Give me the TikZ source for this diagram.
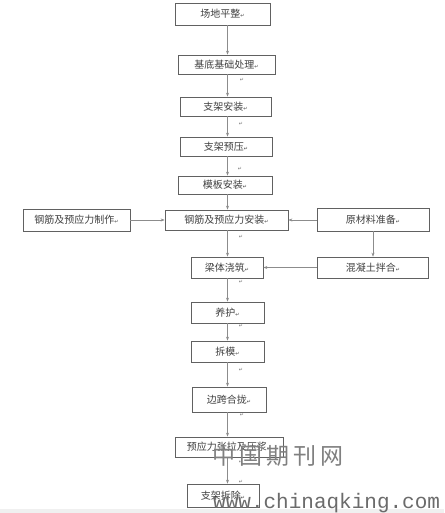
\documentclass[tikz,border=0pt]{standalone}
\usepackage{fontspec}
\usetikzlibrary{arrows.meta}
\newfontfamily\cjk{Noto Sans CJK SC}
\newfontfamily\dvs{DejaVu Sans}
\newfontfamily\wmono{Liberation Mono}
\newcommand\pmk{{\dvs\fontsize{5}{5}\selectfont ↵}}
\begin{document}
\begin{tikzpicture}[x=1pt,y=-1pt,
  box/.style={draw=black!62, line width=0.7pt, rectangle, inner sep=0pt, text=black!75, font=\cjk\fontsize{10}{12}\selectfont},
  conn/.style={draw=black!45, line width=0.6pt, -{Stealth[length=4pt,width=3pt]}},
  mk/.style={inner sep=0pt, text=black!55, font=\dvs\fontsize{5}{5}\selectfont},
  wm/.style={inner sep=0pt, text=black!55}]
\useasboundingbox (0,0) rectangle (444,513);
\fill[white] (0,0) rectangle (444,513);
\fill[black!6] (0,509) rectangle (444,513);
% main column
\node[box, minimum width=95pt, minimum height=22pt] (b1) at (222.5,14) {场地平整\pmk};
\node[box, minimum width=97pt, minimum height=19pt] (b2) at (226.5,64.5) {基底基础处理\pmk};
\node[box, minimum width=91pt, minimum height=19pt] (b3) at (225.5,106.5) {支架安装\pmk};
\node[box, minimum width=92pt, minimum height=19pt] (b4) at (226,146.5) {支架预压\pmk};
\node[box, minimum width=94pt, minimum height=18pt] (b5) at (225,185) {模板安装\pmk};
\node[box, minimum width=123pt, minimum height=20pt] (b6) at (226.5,220) {钢筋及预应力安装\pmk};
\node[box, minimum width=107pt, minimum height=22pt] (bl) at (76.5,220) {钢筋及预应力制作\pmk};
\node[box, minimum width=112pt, minimum height=23pt] (br) at (373,219.5) {原材料准备\pmk};
\node[box, minimum width=111pt, minimum height=21pt] (bm) at (373,267.5) {混凝土拌合\pmk};
\node[box, minimum width=72pt, minimum height=21pt] (b7) at (227,267.5) {梁体浇筑\pmk};
\node[box, minimum width=73pt, minimum height=21pt] (b8) at (227.5,312.5) {养护\pmk};
\node[box, minimum width=73pt, minimum height=21pt] (b9) at (227.5,351.5) {拆模\pmk};
\node[box, minimum width=74pt, minimum height=25pt] (b10) at (229,399.5) {边跨合拢\pmk};
\node[box, minimum width=108pt, minimum height=20pt] (b11) at (229,447) {预应力张拉及压浆\pmk};
\node[box, minimum width=72pt, minimum height=23pt] (b12) at (223,495.5) {支架拆除\pmk};
\coordinate (spine) at (227.5,0);
% vertical connectors
\foreach \a/\b in {b1/b2,b2/b3,b3/b4,b4/b5,b5/b6,b6/b7,b7/b8,b8/b9,b9/b10,b10/b11,b11/b12}
  \draw[conn] (\a.south -| spine) -- (\b.north -| spine);
% side connectors
\draw[conn] (bl.east) -- (b6.west);
\draw[conn] (br.west |- b6.east) -- (b6.east);
\draw[conn] (br.south) -- (bm.north);
\draw[conn] (bm.west |- b7.east) -- (b7.east);
% stray paragraph marks
\foreach \p [count=\i] in {(242,80),(241,124),(240,169),(241,237),(241,282),(241,326),(241,370),(242,415),(241,462),(241,482)}
  \node[mk] (m\i) at \p {↵};
% watermark
\node[wm, anchor=center, font=\cjk\fontsize{23}{23}\selectfont, text=black!50] (wm1) at (278,456) {中\,国\,期\,刊\,网};
\node[wm, anchor=base west, font=\wmono\fontsize{21}{21}\selectfont, text=black!58] (wm2) at (213,508) {www.chinaqking.com};
\end{tikzpicture}
\end{document}
